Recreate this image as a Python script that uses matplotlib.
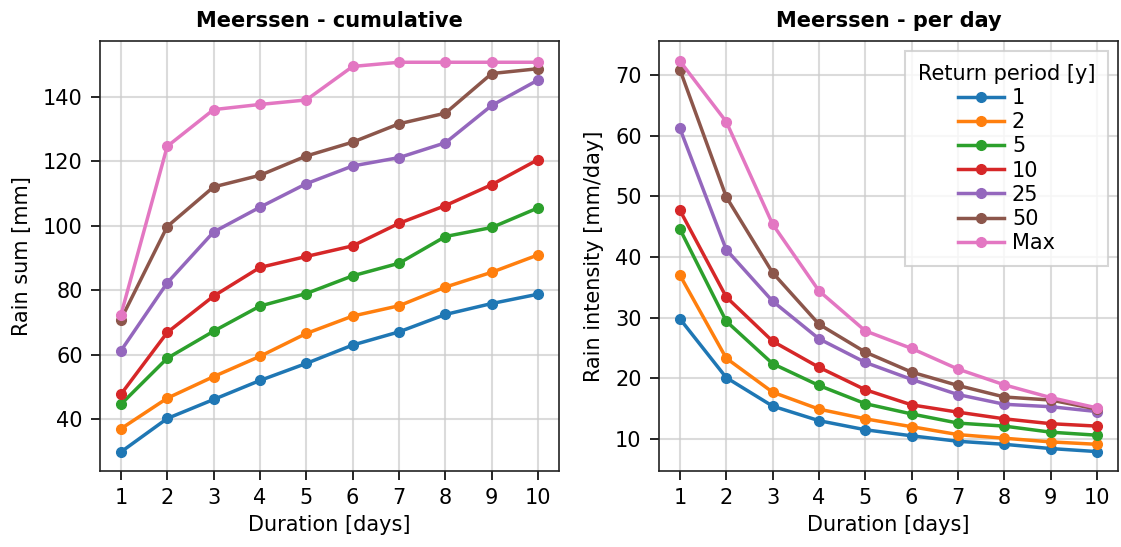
import numpy as np
import matplotlib
matplotlib.use("Agg")
import matplotlib.pyplot as plt

# ── Data ─────────────────────────────────────────────
STATION = "Meerssen"
durations = [1, 2, 3, 4, 5, 6, 7, 8, 9, 10]
periods = ["1", "2", "5", "10", "25", "50", "Max"]

# cumulative rain sum [mm]
cum_1   = [29.8, 40.2, 46.1, 52.0, 57.3, 63.0, 67.1, 72.5, 75.9, 78.8]
cum_2   = [37.0, 46.5, 53.2, 59.5, 66.6, 72.0, 75.2, 81.0, 85.6, 91.0]
cum_5   = [44.6, 58.9, 67.3, 75.1, 79.0, 84.5, 88.4, 96.7, 99.5, 105.6]
cum_10  = [47.7, 66.9, 78.2, 87.1, 90.5, 93.8, 100.8, 106.3, 112.8, 120.6]
cum_25  = [61.2, 82.3, 98.1, 105.8, 113.1, 118.6, 121.2, 125.8, 137.4, 145.3]
cum_50  = [70.9, 99.8, 112.1, 115.7, 121.7, 126.0, 131.7, 135.0, 147.3, 148.8]
cum_max = [72.3, 124.7, 136.1, 137.7, 139.1, 149.5, 150.8, 150.8, 150.8, 150.8]

# rain intensity [mm/day]
day_1   = [29.8, 20.1, 15.4, 13.0, 11.5, 10.5, 9.6, 9.1, 8.4, 7.9]
day_2   = [37.0, 23.3, 17.7, 14.9, 13.3, 12.0, 10.7, 10.1, 9.5, 9.1]
day_5   = [44.6, 29.4, 22.4, 18.8, 15.8, 14.1, 12.6, 12.1, 11.1, 10.6]
day_10  = [47.7, 33.4, 26.1, 21.8, 18.1, 15.6, 14.4, 13.3, 12.5, 12.1]
day_25  = [61.2, 41.2, 32.7, 26.5, 22.6, 19.8, 17.3, 15.7, 15.3, 14.5]
day_50  = [70.9, 49.9, 37.4, 28.9, 24.3, 21.0, 18.8, 16.9, 16.4, 14.9]
day_max = [72.3, 62.3, 45.4, 34.4, 27.8, 24.9, 21.5, 18.9, 16.8, 15.1]

cum_series = [cum_1, cum_2, cum_5, cum_10, cum_25, cum_50, cum_max]
day_series = [day_1, day_2, day_5, day_10, day_25, day_50, day_max]

FS = 15

plt.rcParams.update({
    "font.family": "DejaVu Sans",
    "font.size": FS,
    "axes.linewidth": 1.2,
    "axes.edgecolor": "#222222",
    "xtick.major.size": 6.5,
    "ytick.major.size": 6.5,
    "xtick.major.width": 1.2,
    "ytick.major.width": 1.2,
    "xtick.major.pad": 6,
    "ytick.major.pad": 6,
})

fig = plt.figure(figsize=(11.21, 5.47), dpi=100)
ax1 = fig.add_axes([100 / 1121, 1 - 471 / 547, 459 / 1121, 430 / 547])
ax2 = fig.add_axes([659 / 1121, 1 - 471 / 547, 459 / 1121, 430 / 547])

for ax, series in ((ax1, cum_series), (ax2, day_series)):
    for lab, ys in zip(periods, series):
        ax.plot(durations, ys, "o-", lw=2.5, ms=7, label=lab)
    ax.grid(True, color="#cccccc", alpha=0.7, lw=1.5)
    ax.set_xticks(durations)
    ax.set_xlabel("Duration [days]", labelpad=5)
    ax.set_xlim(0.55, 10.45)

ax1.set_title(f"{STATION} - cumulative", fontweight="bold", fontsize=FS, pad=10)
ax1.set_ylabel("Rain sum [mm]", labelpad=8)
ax1.set_ylim(23.9, 157.4)
ax1.set_yticks([40, 60, 80, 100, 120, 140])

ax2.set_title(f"{STATION} - per day", fontweight="bold", fontsize=FS, pad=10)
ax2.set_ylabel("Rain intensity [mm/day]", labelpad=8)
ax2.set_ylim(4.7, 75.6)
ax2.set_yticks([10, 20, 30, 40, 50, 60, 70])

leg = ax2.legend(title="Return period [y]", loc="upper right",
                 fontsize=FS, title_fontsize=FS, framealpha=0.8,
                 labelspacing=0.2, borderpad=0.6, handletextpad=0.4,
                 handlelength=2.2, fancybox=False)
leg.get_frame().set_linewidth(1.5)
leg.get_frame().set_edgecolor("#cccccc")

fig.savefig("out.png", dpi=100)
